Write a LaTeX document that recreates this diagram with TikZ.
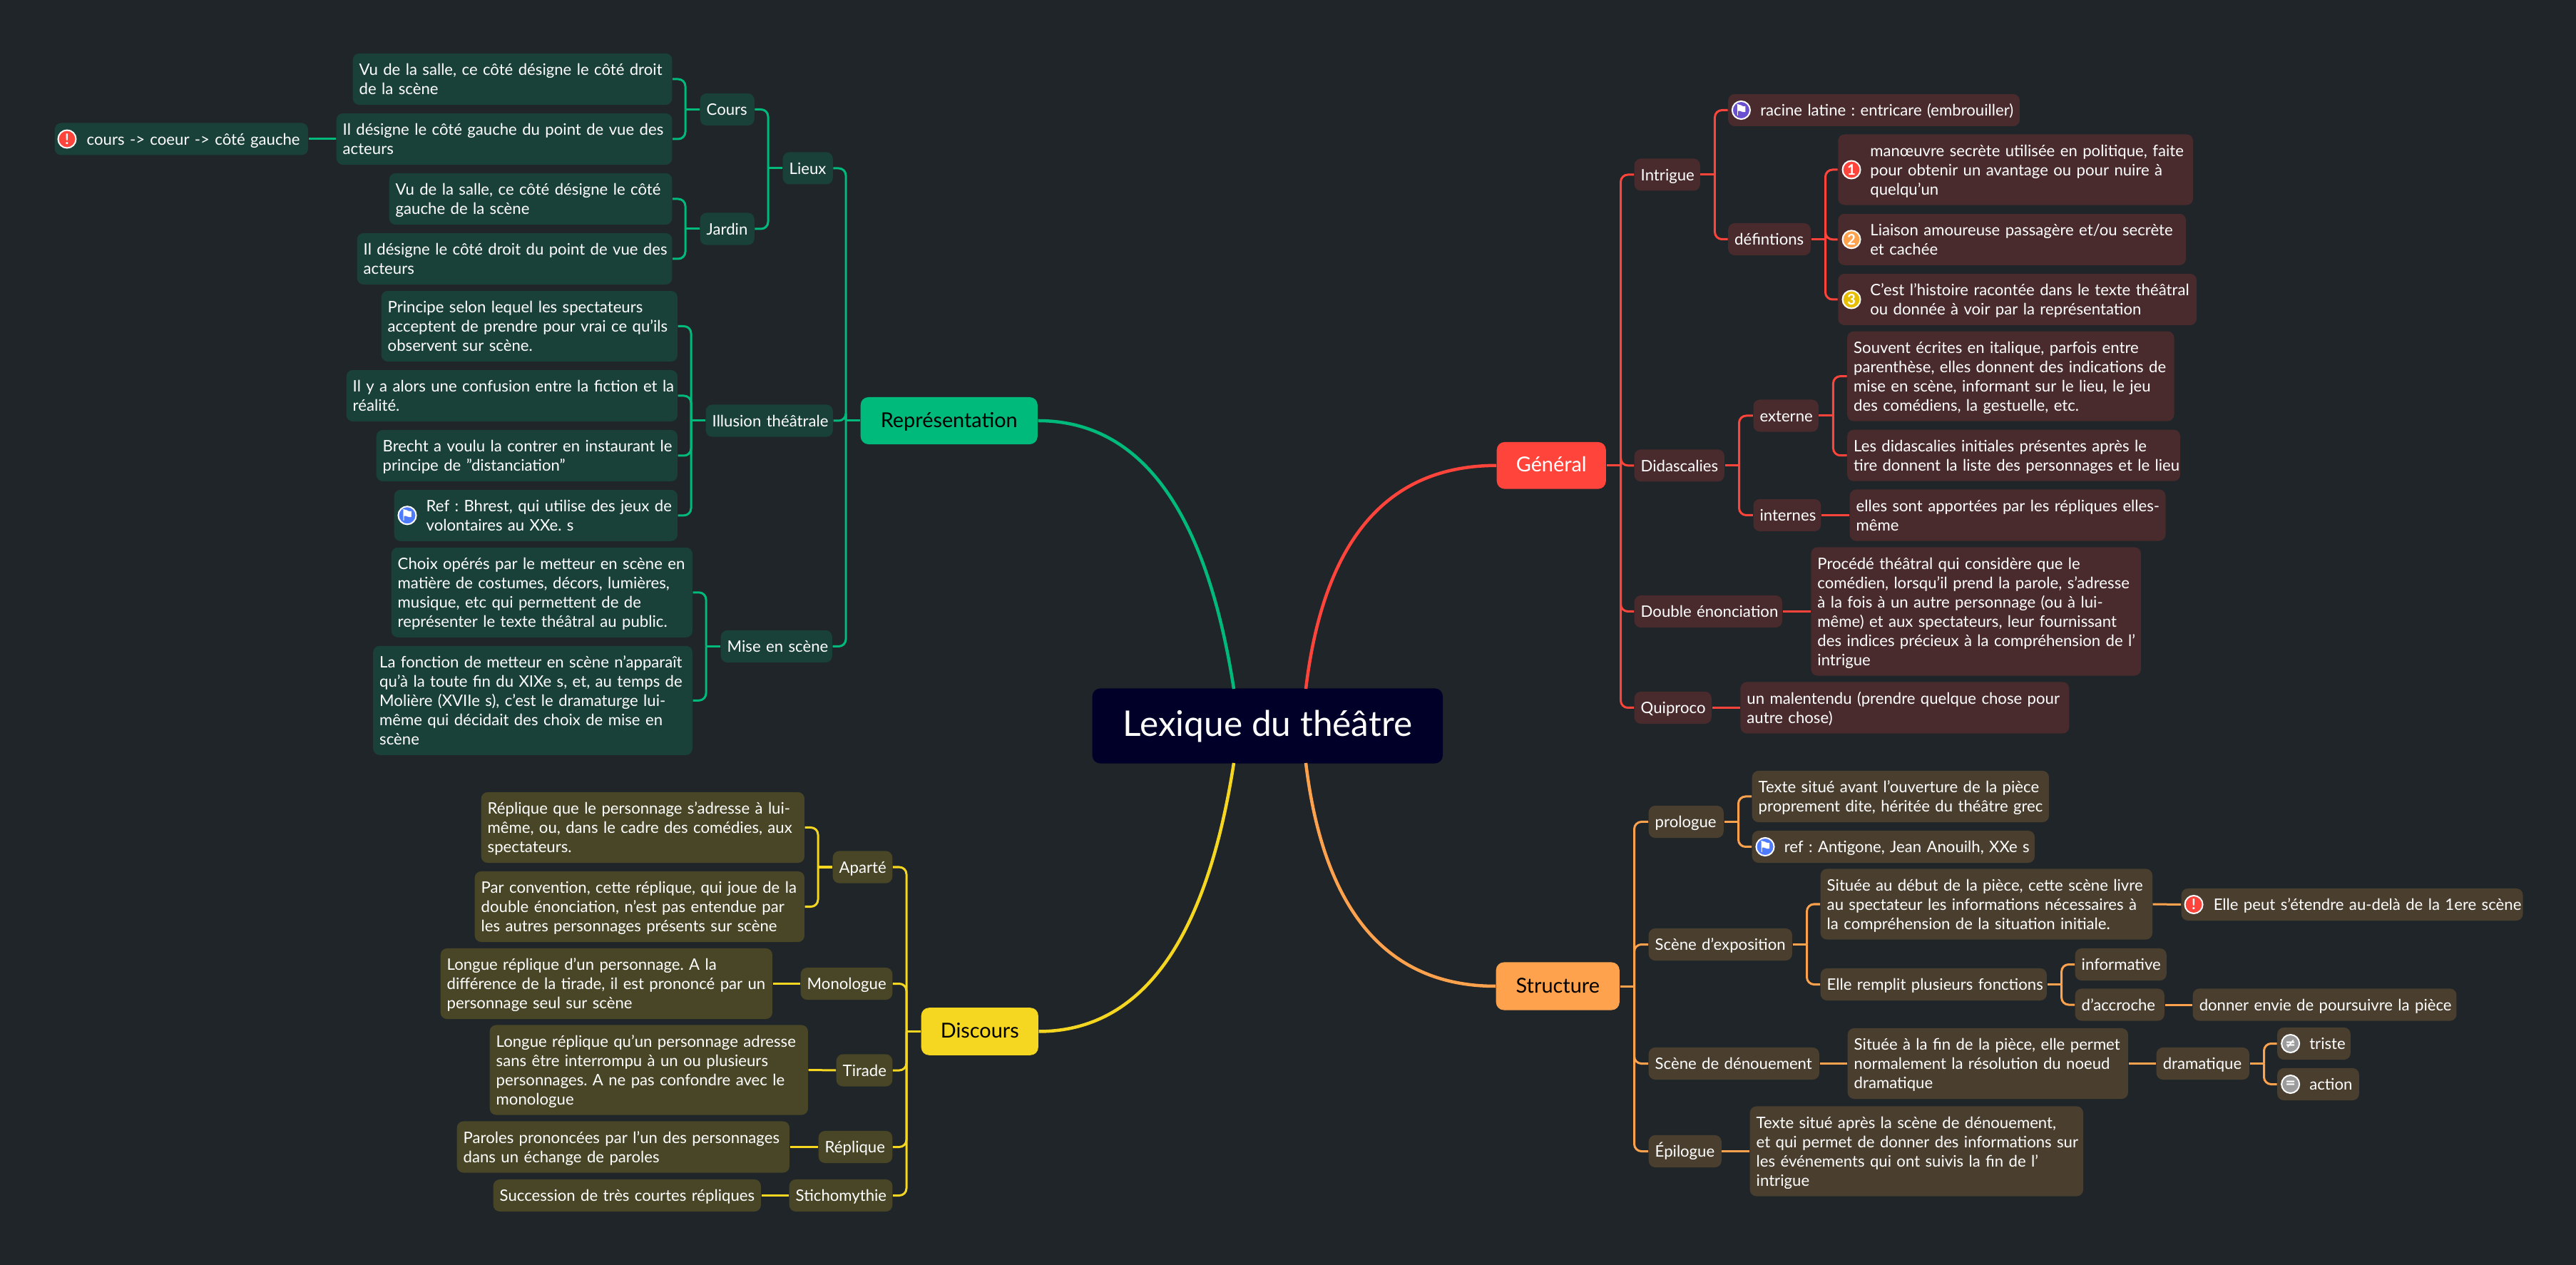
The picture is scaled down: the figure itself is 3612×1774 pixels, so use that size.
\documentclass[tikz,border=0pt]{standalone}
\usepackage{fontspec}
\setmainfont{Lato}
\newfontfamily\glyphfont{DejaVu Sans}
\usetikzlibrary{calc}

\definecolor{pagecol}{HTML}{1F2528}
\definecolor{rootcol}{HTML}{000028}
\definecolor{greencol}{HTML}{00BA7C}
\definecolor{redcol}{HTML}{FF453B}
\definecolor{orangecol}{HTML}{FFA24E}
\definecolor{yellowcol}{HTML}{F5D620}
\definecolor{greenleaf}{HTML}{1A4139}
\definecolor{redleaf}{HTML}{4A2B2D}
\definecolor{orangeleaf}{HTML}{4A3E2F}
\definecolor{yellowleaf}{HTML}{484626}
\definecolor{flagblue}{HTML}{4F7BFF}
\definecolor{flagviolet}{HTML}{6A4FD0}
\definecolor{mark3}{HTML}{E8BE00}
\definecolor{markgrey}{HTML}{9B9B9B}

\newcommand{\topstrut}{\rule{0pt}{7.1pt}}
\tikzset{
  leaf/.style 2 args={rounded corners=0.09cm, anchor=west, inner xsep=0.09cm, inner ysep=0pt,
    minimum width=#1cm, minimum height=#2cm, text width=#1cm-0.18cm, align=left, text=white,
    font=\fontsize{6.3}{7.68}\selectfont\frenchspacing,
    execute at begin node={\rightskip=-1cm plus 1fil\topstrut}, execute at end node={\strut}},
  gleaf/.style 2 args={leaf={#1}{#2}, fill=greenleaf},
  rleaf/.style 2 args={leaf={#1}{#2}, fill=redleaf},
  oleaf/.style 2 args={leaf={#1}{#2}, fill=orangeleaf},
  yleaf/.style 2 args={leaf={#1}{#2}, fill=yellowleaf},
  marked/.style={execute at begin node={\leftskip=0.36cm\rightskip=-1cm plus 1fil\topstrut}},
  main/.style 2 args={rounded corners=0.11cm, anchor=west, inner sep=0pt, align=center,
    minimum width=#1cm, minimum height=#2cm, text height=6.8pt, text depth=1.6pt,
    font=\fontsize{8.2}{10}\selectfont},
  badge/.style={circle, draw=white, line width=0.02cm, inner sep=0pt, minimum size=0.25cm,
    text=white, font=\fontsize{5.8}{7}\selectfont\bfseries},
  flagbadge/.style={badge, font=\glyphfont\fontsize{6.2}{7}\selectfont},
  signbadge/.style={badge, fill=markgrey, font=\glyphfont\fontsize{5}{7}\selectfont\bfseries},
  glink/.style={draw=greencol, line width=0.03cm, rounded corners=0.1cm},
  rlink/.style={draw=redcol, line width=0.03cm, rounded corners=0.1cm},
  olink/.style={draw=orangecol, line width=0.03cm, rounded corners=0.1cm},
  ylink/.style={draw=yellowcol, line width=0.03cm, rounded corners=0.1cm},
}

% one trunk beside a parent, then a branch to each child
\newcommand{\forkleft}[3]{%
  \coordinate (#2t) at ($(#2.west)+(-20,0)$);
  \draw[#1] (#2t) -- (#2.west);
  \foreach \k in {#3} \draw[#1] (#2t) |- (\k.east);}
\newcommand{\forkright}[3]{%
  \coordinate (#2t) at ($(#2.east)+(20,0)$);
  \draw[#1] (#2t) -- (#2.east);
  \foreach \k in {#3} \draw[#1] (#2t) |- (\k.west);}

\begin{document}
\begin{tikzpicture}[x=0.01cm,y=-0.01cm]

  \fill[pagecol] (0,0) rectangle (3612,1774);

  \node[main={4.91}{1.05}, fill=rootcol, text=white, text height=11pt, text depth=3pt, font=\fontsize{14.1}{16}\selectfont] (root) at (1531,1018) {Lexique du théâtre};

  % Représentation
  \node[main={2.48}{0.66}, fill=greencol, text=black] (repr) at (1206,590) {Représentation};
  \node[gleaf={0.70}{0.45}] (lieux) at (1097,236) {Lieux};
  \node[gleaf={0.76}{0.45}] (cours) at (981,153.5) {Cours};
  \node[gleaf={0.76}{0.45}] (jardin) at (981,321) {Jardin};
  \node[gleaf={4.475}{0.72}] (coursa) at (494,111) {Vu de la salle, ce côté désigne le côté droit\\de la scène};
  \node[gleaf={4.705}{0.72}] (coursb) at (471,195) {Il désigne le côté gauche du point de vue des\\acteurs};
  \node[gleaf={3.55}{0.45}, marked] (coeur) at (76,195) {cours -> coeur -> côté gauche};
  \node[gleaf={3.965}{0.72}] (jardina) at (545,279) {Vu de la salle, ce côté désigne le côté\\gauche de la scène};
  \node[gleaf={4.415}{0.72}] (jardinb) at (500,363) {Il désigne le côté droit du point de vue des\\acteurs};
  \node[gleaf={1.78}{0.45}] (illusion) at (989,590) {Illusion théâtrale};
  \node[gleaf={4.15}{0.99}] (illa) at (534,457.5) {Principe selon lequel les spectateurs\\acceptent de prendre pour vrai ce qu'ils\\observent sur scène.};
  \node[gleaf={4.64}{0.72}] (illb) at (485,555) {Il y a alors une confusion entre la fiction et la\\réalité.};
  \node[gleaf={4.22}{0.72}] (illc) at (527,639) {Brecht a voulu la contrer en instaurant le\\principe de "distanciation"};
  \node[gleaf={3.97}{0.72}, marked] (illd) at (552,722.8) {Ref : Bhrest, qui utilise des jeux de\\volontaires au XXe. s};
  \node[gleaf={1.56}{0.45}] (mise) at (1010,906.5) {Mise en scène};
  \node[gleaf={4.22}{1.26}] (misea) at (548,830.8) {Choix opérés par le metteur en scène en\\matière de costumes, décors, lumières,\\musique, etc qui permettent de de\\représenter le texte théâtral au public.};
  \node[gleaf={4.475}{1.53}] (miseb) at (522.5,982.3) {La fonction de metteur en scène n'apparaît\\qu'à la toute fin du XIXe s, et, au temps de\\Molière (XVIIe s), c'est le dramaturge lui-\\même qui décidait des choix de mise en\\scène};

  \node[badge, fill=redcol] (coeurm) at (94,195) {!};
  \node[flagbadge, fill=flagblue] (illdm) at (571,722.8) {⚑};

  \draw[glink, line width=0.045cm] (repr.east) .. controls (1599,590) and (1691,715) .. (1730,966);
  \forkleft{glink}{repr}{lieux,illusion,mise}
  \forkleft{glink}{lieux}{cours,jardin}
  \forkleft{glink}{cours}{coursa,coursb}
  \forkleft{glink}{jardin}{jardina,jardinb}
  \forkleft{glink}{illusion}{illa,illb,illc,illd}
  \forkleft{glink}{mise}{misea,miseb}
  \draw[glink] (coursb.west) -- (coeur.east);

  % Discours
  \node[main={1.64}{0.665}, fill=yellowcol, text=black] (disc) at (1291,1446.5) {Discours};
  \node[yleaf={0.835}{0.45}] (aparte) at (1167,1216) {Aparté};
  \node[yleaf={1.285}{0.45}] (mono) at (1122,1379.5) {Monologue};
  \node[yleaf={0.785}{0.45}] (tirade) at (1172,1501) {Tirade};
  \node[yleaf={1.035}{0.45}] (repl) at (1147,1608.5) {Réplique};
  \node[yleaf={1.445}{0.45}] (sticho) at (1106,1676.5) {Stichomythie};
  \node[yleaf={4.53}{0.99}] (apa) at (674,1160.5) {Réplique que le personnage s'adresse à lui-\\même, ou, dans le cadre des comédies, aux\\spectateurs.};
  \node[yleaf={4.62}{0.99}] (apb) at (665,1271.5) {Par convention, cette réplique, qui joue de la\\double énonciation, n'est pas entendue par\\les autres personnages présents sur scène};
  \node[yleaf={4.65}{0.99}] (monoa) at (617,1379.5) {Longue réplique d'un personnage. A la\\différence de la tirade, il est prononcé par un\\personnage seul sur scène};
  \node[yleaf={4.46}{1.26}] (tira) at (686,1500.5) {Longue réplique qu'un personnage adresse\\sans être interrompu à un ou plusieurs\\personnages. A ne pas confondre avec le\\monologue};
  \node[yleaf={4.66}{0.72}] (repla) at (640,1608.5) {Paroles prononcées par l'un des personnages\\dans un échange de paroles};
  \node[yleaf={3.75}{0.45}] (stia) at (691,1676.5) {Succession de très courtes répliques};

  \draw[ylink, line width=0.045cm] (disc.east) .. controls (1600,1446) and (1691,1321) .. (1730,1070);
  \forkleft{ylink}{disc}{aparte,mono,tirade,repl,sticho}
  \forkleft{ylink}{aparte}{apa,apb}
  \draw[ylink] (mono.west) -- (monoa.east);
  \draw[ylink] (tirade.west) -- (tira.east);
  \draw[ylink] (repl.west) -- (repla.east);
  \draw[ylink] (sticho.west) -- (stia.east);

  % Général
  \node[main={1.53}{0.657}, fill=redcol, text=white] (gen) at (2098,652.8) {Général};
  \node[rleaf={0.92}{0.45}] (intr) at (2291,245) {Intrigue};
  \node[rleaf={1.26}{0.45}] (dida) at (2291,652.8) {Didascalies};
  \node[rleaf={2.07}{0.45}] (dble) at (2291,857.5) {Double énonciation};
  \node[rleaf={1.08}{0.45}] (quip) at (2291,992.5) {Quiproco};
  \node[rleaf={4.085}{0.45}, marked] (raci) at (2422.5,154.5) {racine latine : entricare (embrouiller)};
  \node[rleaf={1.155}{0.45}] (defi) at (2422.5,335.5) {défintions};
  \node[rleaf={4.974}{0.99}, marked] (defa) at (2576.6,238) {manœuvre secrète utilisée en politique, faite\\pour obtenir un avantage ou pour nuire à\\quelqu'un};
  \node[rleaf={4.874}{0.72}, marked] (defb) at (2576.6,335.8) {Liaison amoureuse passagère et/ou secrète\\et cachée};
  \node[rleaf={5.024}{0.72}, marked] (defc) at (2576.6,420) {C'est l'histoire racontée dans le texte théâtral\\ou donnée à voir par la représentation};
  \node[rleaf={0.912}{0.45}] (exte) at (2457.8,583) {externe};
  \node[rleaf={0.947}{0.45}] (inte) at (2457.8,722.5) {internes};
  \node[rleaf={4.58}{1.26}] (exta) at (2589.5,527.6) {Souvent écrites en italique, parfois entre\\parenthèse, elles donnent des indications de\\mise en scène, informant sur le lieu, le jeu\\des comédiens, la gestuelle, etc.};
  \node[rleaf={4.665}{0.72}] (extb) at (2589.5,638.7) {Les didascalies initiales présentes après le\\tire donnent la liste des personnages et le lieu};
  \node[rleaf={4.425}{0.72}] (inta) at (2593,722.5) {elles sont apportées par les répliques elles-\\même};
  \node[rleaf={4.623}{1.80}] (dblea) at (2538.7,857.5) {Procédé théâtral qui considère que le\\comédien, lorsqu'il prend la parole, s'adresse\\à la fois à un autre personnage (ou à lui-\\même) et aux spectateurs, leur fournissant\\des indices précieux à la compréhension de l'\\intrigue};
  \node[rleaf={4.606}{0.72}] (quipa) at (2439.7,992.5) {un malentendu (prendre quelque chose pour\\autre chose)};

  \node[flagbadge, fill=flagviolet] (racim) at (2441.4,154.5) {⚑};
  \node[badge, fill=redcol] (defam) at (2596,238) {1};
  \node[badge, fill=orangecol] (defbm) at (2596,335.8) {2};
  \node[badge, fill=mark3] (defcm) at (2596,420) {3};

  \draw[rlink, line width=0.045cm] (gen.west) .. controls (1945,653) and (1856,757) .. (1831,966);
  \forkright{rlink}{gen}{intr,dida,dble,quip}
  \forkright{rlink}{intr}{raci,defi}
  \forkright{rlink}{defi}{defa,defb,defc}
  \forkright{rlink}{dida}{exte,inte}
  \forkright{rlink}{exte}{exta,extb}
  \draw[rlink] (inte.east) -- (inta.west);
  \draw[rlink] (dble.east) -- (dblea.west);
  \draw[rlink] (quip.east) -- (quipa.west);

  % Structure
  \node[main={1.73}{0.67}, fill=orangecol, text=black] (stru) at (2097,1383) {Structure};
  \node[oleaf={1.05}{0.45}] (prol) at (2311,1152.5) {prologue};
  \node[oleaf={2.01}{0.45}] (expo) at (2311,1324.5) {Scène d'exposition};
  \node[oleaf={2.39}{0.45}] (deno) at (2311,1491.5) {Scène de dénouement};
  \node[oleaf={1.02}{0.45}] (epil) at (2311,1614.5) {Épilogue};
  \node[oleaf={4.16}{0.72}] (prola) at (2456,1117) {Texte situé avant l'ouverture de la pièce\\proprement dite, héritée du théâtre grec};
  \node[oleaf={3.96}{0.45}, marked] (prolb) at (2456,1187.5) {ref : Antigone, Jean Anouilh, XXe s};
  \node[oleaf={4.65}{0.99}] (expa) at (2552,1268) {Située au début de la pièce, cette scène livre\\au spectateur les informations nécessaires à\\la compréhension de la situation initiale.};
  \node[oleaf={4.785}{0.45}, marked] (expaa) at (3058,1268.5) {Elle peut s'étendre au-delà de la 1ere scène};
  \node[oleaf={3.17}{0.45}] (expb) at (2552,1380.5) {Elle remplit plusieurs fonctions};
  \node[oleaf={1.28}{0.45}] (info) at (2909,1352.5) {informative};
  \node[oleaf={1.25}{0.45}] (accr) at (2909,1409) {d'accroche};
  \node[oleaf={3.695}{0.45}] (accra) at (3074,1409) {donner envie de poursuivre la pièce};
  \node[oleaf={3.93}{0.99}] (denoa) at (2590,1491.5) {Située à la fin de la pièce, elle permet\\normalement la résolution du noeud\\dramatique};
  \node[oleaf={1.30}{0.45}] (dram) at (3023,1491.5) {dramatique};
  \node[oleaf={1.025}{0.45}, marked] (tris) at (3192.5,1463.5) {triste};
  \node[oleaf={1.145}{0.45}, marked] (acti) at (3192.5,1520.5) {action};
  \node[oleaf={4.67}{1.26}] (epila) at (2453,1614.5) {Texte situé après la scène de dénouement,\\et qui permet de donner des informations sur\\les événements qui ont suivis la fin de l'\\intrigue};

  \node[flagbadge, fill=flagblue] (prolbm) at (2475,1187.5) {⚑};
  \node[badge, fill=redcol] (expaam) at (3076,1268.5) {!};
  \node[signbadge] (trism) at (3211.6,1463.5) {≠};
  \node[signbadge] (actim) at (3211.6,1520.5) {=};

  \draw[olink, line width=0.045cm] (stru.west) .. controls (1946,1383) and (1856,1279) .. (1831,1070);
  \forkright{olink}{stru}{prol,expo,deno,epil}
  \forkright{olink}{prol}{prola,prolb}
  \forkright{olink}{expo}{expa,expb}
  \forkright{olink}{expb}{info,accr}
  \forkright{olink}{dram}{tris,acti}
  \draw[olink] (expa.east) -- (expaa.west);
  \draw[olink] (accr.east) -- (accra.west);
  \draw[olink] (deno.east) -- (denoa.west);
  \draw[olink] (denoa.east) -- (dram.west);
  \draw[olink] (epil.east) -- (epila.west);

\end{tikzpicture}
\end{document}
